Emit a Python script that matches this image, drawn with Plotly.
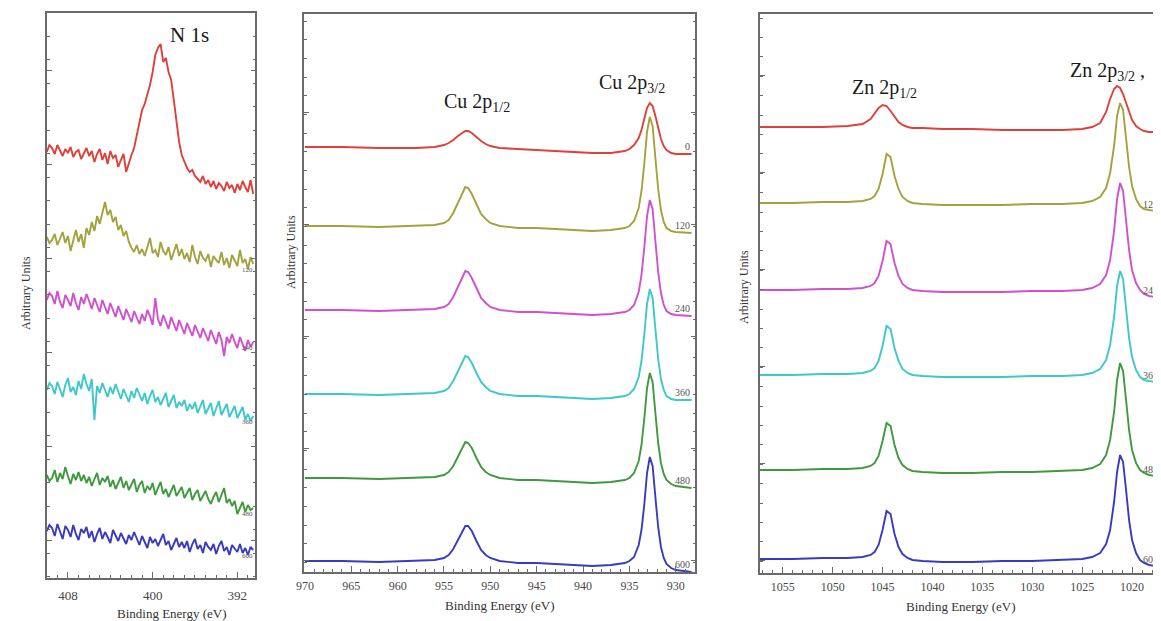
import plotly.graph_objects as go

# ---------------- data ----------------
times = ["0", "120", "240", "360", "480", "600"]
colors = ["#e0403a", "#a3a33e", "#d050d0", "#3ec8c8", "#3f9a3f", "#3a3ac0"]

# N 1s (binding energy grid, eV)
n1s_energy = [round(410 - 0.25 * i, 2) for i in range(79)]
n1s_0 = [448, 455, 452, 446, 455, 449, 444, 451, 447, 453, 443, 448, 450, 441, 447, 452, 444, 449, 438, 446, 451, 440,
         447, 436, 449, 442, 445, 433, 440, 446, 428, 437, 445, 452, 466, 478, 490, 496, 506, 515, 528, 545, 552, 556,
         538, 542, 528, 520, 500, 478, 458, 445, 438, 432, 428, 430, 424, 421, 418, 424, 416, 420, 413, 419, 411, 417,
         414, 409, 418, 412, 415, 407, 416, 410, 419, 413, 408, 420, 406]
n1s_120 = [363, 357, 360, 366, 355, 362, 368, 357, 364, 349, 361, 370, 358, 366, 352, 372, 365, 378, 369, 384, 376, 388,
           398, 385, 390, 378, 383, 370, 375, 364, 369, 358, 352, 348, 355, 346, 351, 344, 353, 362, 347, 350, 343, 358,
           349, 345, 353, 340, 348, 356, 344, 351, 341, 347, 338, 355, 343, 336, 349, 342, 339, 346, 333, 344, 340, 337,
           348, 335, 342, 332, 345, 339, 334, 350, 337, 341, 331, 343, 336]
n1s_240 = [300, 307, 304, 296, 309, 298, 292, 305, 300, 294, 307, 297, 290, 303, 296, 306, 299, 291, 302, 295, 288, 300,
           293, 286, 297, 290, 283, 294, 287, 280, 291, 285, 278, 289, 282, 276, 286, 279, 290, 284, 275, 302, 281, 274,
           285, 278, 271, 283, 276, 269, 280, 273, 266, 277, 270, 264, 275, 268, 262, 272, 265, 259, 270, 263, 256, 268,
           260, 244, 263, 257, 266, 258, 252, 263, 255, 249, 260, 253, 258]
n1s_360 = [210, 217, 214, 206, 218, 210, 203, 215, 222, 208, 213, 205, 219, 211, 226, 216, 209, 221, 180, 214, 207, 217,
           210, 203, 213, 206, 216, 208, 201, 211, 204, 198, 209, 202, 212, 205, 199, 207, 196, 204, 210, 198, 203, 195,
           201, 207, 193, 199, 205, 192, 198, 194, 200, 189, 196, 191, 198, 187, 194, 200, 186, 192, 197, 184, 191, 199,
           185, 190, 196, 183, 189, 194, 182, 188, 193, 180, 186, 179, 184]
n1s_480 = [125, 119, 122, 130, 118, 127, 121, 133, 124, 116, 126, 120, 128, 119, 125, 117, 123, 114, 121, 127, 115, 122,
           118, 124, 113, 120, 111, 117, 123, 112, 119, 110, 116, 121, 108, 115, 119, 107, 114, 110, 117, 105, 112, 118,
           106, 111, 103, 109, 115, 104, 108, 113, 102, 107, 112, 100, 106, 110, 99, 104, 109, 101, 96, 103, 108, 98,
           105, 112, 97, 101, 94, 99, 86, 93, 98, 88, 95, 90, 92]
n1s_600 = [69, 75, 72, 64, 76, 68, 61, 74, 70, 63, 75, 66, 60, 71, 67, 73, 62, 69, 58, 66, 72, 61, 68, 63, 57, 70, 64, 59,
           67, 61, 56, 65, 60, 68, 62, 55, 64, 58, 52, 63, 57, 61, 54, 60, 66, 55, 59, 50, 57, 62, 53, 58, 52, 59, 48,
           56, 61, 51, 55, 47, 58, 53, 50, 56, 46, 54, 59, 49, 53, 45, 55, 51, 48, 56, 47, 52, 45, 53, 50]

# Cu 2p
cu_energy = [970, 966, 962, 958, 956, 955, 954.5, 954, 953.5, 953, 952.7, 952.4, 952, 951.5, 951, 950.5, 950, 949, 947,
             945, 943, 941, 939, 937, 935.5, 935, 934.5, 934, 933.7, 933.4, 933.1, 932.8, 932.5, 932.2, 931.9, 931.6,
             931.3, 931, 930.5, 930, 929, 928.3]
cu_0 = [453, 453, 452, 452, 453, 455, 457, 460, 464, 467, 469, 469, 467, 463, 459, 456, 454, 452, 451, 450, 449, 448,
        447, 447, 449, 451, 455, 462, 470, 481, 492, 497, 494, 484, 471, 461, 454, 450, 447, 446, 446, 446]
cu_120 = [374, 374, 373, 374, 375, 377, 380, 387, 397, 407, 413, 412, 406, 396, 386, 381, 377, 374, 372, 372, 371, 370,
          369, 370, 372, 374, 379, 392, 409, 436, 468, 483, 474, 442, 411, 390, 378, 372, 369, 368, 367, 367]
cu_240 = [290, 290, 289, 290, 291, 293, 296, 303, 313, 323, 329, 328, 322, 312, 302, 297, 293, 290, 288, 288, 287, 286,
          285, 286, 288, 290, 295, 308, 325, 352, 384, 400, 391, 359, 328, 307, 295, 289, 286, 285, 284, 284]
cu_360 = [206, 206, 205, 206, 207, 209, 212, 219, 229, 239, 244, 243, 237, 227, 218, 213, 209, 206, 204, 204, 203, 202,
          201, 202, 204, 206, 211, 223, 239, 265, 296, 311, 302, 271, 241, 221, 210, 204, 201, 200, 200, 200]
cu_480 = [122, 122, 121, 122, 123, 125, 128, 134, 143, 153, 158, 157, 152, 142, 133, 128, 125, 122, 120, 120, 119, 118,
          117, 118, 120, 122, 127, 139, 155, 181, 212, 227, 218, 187, 157, 137, 126, 120, 116, 114, 113, 112]
cu_600 = [39, 39, 38, 39, 40, 42, 45, 51, 60, 70, 74, 74, 69, 59, 50, 45, 42, 39, 37, 37, 36, 35, 34, 35, 37, 39, 43,
          55, 70, 95, 127, 143, 134, 103, 73, 53, 42, 36, 32, 30, 29, 28]

# Zn 2p
zn_energy = [1057.5, 1054, 1051, 1048.5, 1047, 1046.2, 1045.8, 1045.4, 1045.0, 1044.6, 1044.2, 1043.8, 1043.4, 1043.0,
             1042.5, 1042, 1041, 1039, 1036, 1033, 1030, 1027, 1025, 1024, 1023.2, 1022.6, 1022.2, 1021.8, 1021.5,
             1021.2, 1020.9, 1020.6, 1020.3, 1020.0, 1019.6, 1019.2, 1018.8, 1018.3, 1017.8, 1017.0]
zn_0 = [473, 473, 473, 474, 476, 481, 486, 492, 495, 494, 489, 483, 478, 475, 473, 472, 472, 471, 471, 470, 470, 470,
        471, 473, 477, 488, 501, 511, 514, 512, 506, 497, 488, 480, 474, 471, 469, 468, 468, 467]
zn_120 = [397, 397, 398, 398, 399, 401, 404, 411, 426, 446, 443, 424, 411, 403, 399, 397, 396, 395, 395, 395, 396, 396,
          397, 399, 403, 412, 427, 454, 484, 497, 490, 462, 433, 414, 401, 394, 391, 390, 389, 388]
zn_240 = [310, 310, 311, 311, 312, 314, 317, 324, 339, 359, 356, 337, 324, 316, 312, 310, 309, 308, 308, 308, 309, 309,
          310, 312, 316, 325, 340, 369, 401, 417, 409, 380, 350, 330, 317, 310, 306, 304, 303, 302]
zn_360 = [225, 225, 226, 226, 227, 229, 232, 239, 254, 274, 271, 252, 239, 231, 227, 225, 224, 223, 223, 223, 224, 224,
          225, 227, 231, 240, 255, 283, 314, 329, 321, 292, 262, 243, 230, 223, 220, 219, 218, 217]
zn_480 = [130, 130, 131, 131, 132, 134, 137, 144, 159, 177, 174, 155, 142, 135, 131, 129, 128, 127, 127, 128, 128, 129,
          130, 132, 136, 145, 160, 188, 220, 237, 229, 200, 170, 150, 137, 130, 127, 125, 124, 123]
zn_600 = [41, 41, 42, 42, 43, 45, 48, 55, 70, 89, 86, 66, 53, 46, 42, 40, 39, 38, 38, 39, 39, 40, 41, 43, 47, 56, 70, 98,
          128, 145, 138, 110, 80, 60, 47, 40, 37, 35, 34, 33]

n1s_series = [n1s_0, n1s_120, n1s_240, n1s_360, n1s_480, n1s_600]
cu_series = [cu_0, cu_120, cu_240, cu_360, cu_480, cu_600]
zn_series = [zn_0, zn_120, zn_240, zn_360, zn_480, zn_600]

n1s_ticks = [408, 400, 392]

# ---------------- figure ----------------
SERIF = "Liberation Serif"
OFF = 8                      # page body margin of the html page
W, H = 1161 - OFF, 621 - OFF  # figure fills the rest of the window


def X(p):  # window pixel -> paper fraction
    return (p - OFF) / W


def Y(p):
    return 1 - (p - OFF) / H


fig = go.Figure()
panels = [
    ("x", "y", n1s_energy, n1s_series),
    ("x2", "y2", cu_energy, cu_series),
    ("x3", "y3", zn_energy, zn_series),
]
for xa, ya, xs, series in panels:
    for t, c, ys in zip(times, colors, series):
        fig.add_trace(go.Scatter(x=xs, y=ys, mode="lines", xaxis=xa, yaxis=ya,
                                 line=dict(color=c, width=1.9), name=t + " s",
                                 showlegend=False, hoverinfo="skip"))

LC = "#6a6a6a"
axis_line = dict(showline=True, linecolor=LC, linewidth=1.5, showgrid=False, zeroline=False)
tickfont = dict(family=SERIF, size=12, color="#4a4a4a")
minor_x = dict(dtick=1, ticks="inside", ticklen=3, tickcolor=LC)

fig.update_layout(
    width=W, height=H, margin=dict(l=0, r=0, t=0, b=0),
    paper_bgcolor="white", plot_bgcolor="white",
    xaxis=dict(domain=[X(39), X(249)], range=[410, 390.3], anchor="y",
               tickmode="array", tickvals=n1s_ticks,
               ticks="inside", ticklen=6, tickcolor=LC, mirror=True, minor=minor_x,
               tickfont=dict(family=SERIF, size=13, color="#444444"), ticklabelstandoff=5, **axis_line),
    yaxis=dict(domain=[Y(578), Y(13)], range=[22, 587], anchor="x",
               showticklabels=False, ticks="inside", ticklen=5, tickcolor=LC, mirror="ticks",
               tick0=60, dtick=94, minor=dict(dtick=23.5, ticks="inside", ticklen=3, tickcolor=LC),
               **axis_line),
    xaxis2=dict(domain=[X(298), X(692)], range=[970.1, 927.9], anchor="y2",
                dtick=5, tick0=930, ticks="inside", ticklen=6, tickcolor=LC, mirror=True, minor=minor_x,
                tickfont=tickfont, ticklabelstandoff=2, **axis_line),
    yaxis2=dict(domain=[Y(572), Y(14)], range=[28, 586], anchor="x2",
                showticklabels=False, ticks="inside", ticklen=5, tickcolor=LC, mirror="ticks",
                tick0=40, dtick=112, minor=dict(dtick=18.67, ticks="inside", ticklen=3, tickcolor=LC),
                **axis_line),
    xaxis3=dict(domain=[X(757), 1.0], range=[1057.3, 1017.1], anchor="y3",
                dtick=5, tick0=1020, ticks="inside", ticklen=6, tickcolor=LC, mirror=True, minor=minor_x,
                tickfont=tickfont, ticklabelstandoff=2, **axis_line),
    yaxis3=dict(domain=[Y(573), Y(14)], range=[27, 586], anchor="x3",
                showticklabels=False, ticks="inside", ticklen=5, tickcolor=LC, mirror=False,
                tick0=40, dtick=97, minor=dict(dtick=19.4, ticks="inside", ticklen=3, tickcolor=LC),
                **axis_line),
)

ann = []


def label(text, x, y, size, color="#1a1a1a", xanchor="center", **kw):
    d = dict(text=text, x=X(x), y=Y(y), xref="paper", yref="paper", showarrow=False,
             xanchor=xanchor, yanchor="middle", font=dict(family=SERIF, size=size, color=color))
    d.update(kw)
    ann.append(d)


# peak labels
label("N 1s", 183, 35, 21)
label("Cu 2p<sub>1/2</sub>", 472, 103, 20)
label("Cu 2p<sub>3/2</sub>", 628, 84, 20)
label("Zn 2p<sub>1/2</sub>", 883, 89, 20)
label("Zn 2p<sub>3/2</sub> ,", 1067, 72, 20, xanchor="left")

# axis titles
for cx, cy in [(165, 613), (495, 605), (960, 606)]:
    label("Binding Energy (eV)", cx, cy, 13, color="#333333")
for cx, cy in [(18, 293), (285, 252), (741, 287)]:
    label("Arbitrary Units", cx, cy, 12, color="#333333", textangle=-90)

# time labels at right end of each trace
for t, ys in zip(times, cu_series):
    ann.append(dict(text=t, x=928.3, y=ys[-1] + 8, xref="x2", yref="y2", xanchor="right", yanchor="middle",
                    showarrow=False, font=dict(family=SERIF, size=10, color="#555555")))
for t, ys in zip(times, zn_series):
    ann.append(dict(text=t, x=X(1160), y=ys[-1] + 8, xref="paper", yref="y3", xanchor="right", yanchor="middle",
                    showarrow=False, font=dict(family=SERIF, size=10, color="#555555")))
for t, ys in zip(times[1:], n1s_series[1:]):
    ann.append(dict(text=t, x=390.3, y=ys[-1] - 6, xref="x", yref="y", xanchor="right", yanchor="middle",
                    showarrow=False, font=dict(family=SERIF, size=7, color="#555555")))

fig.update_layout(annotations=ann)
fig.write_html("out.html")
